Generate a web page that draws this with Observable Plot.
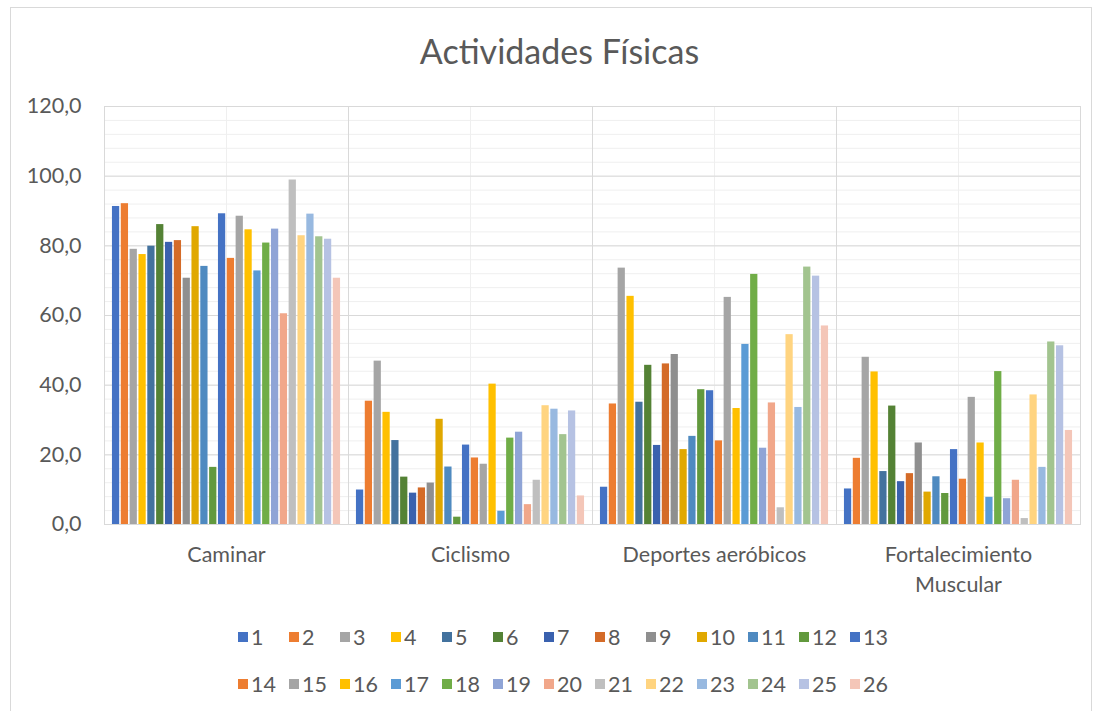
<!DOCTYPE html>
<html><head><meta charset="utf-8">
<script src="https://cdn.jsdelivr.net/npm/d3@7"></script>
<script src="https://cdn.jsdelivr.net/npm/@observablehq/plot@0.6"></script>
<style>
body{margin:0;background:#fff;font-family:Lato,"Open Sans",sans-serif;color:#595959;}
#border{position:absolute;left:10px;top:7px;width:1082px;height:730px;border:1px solid #d9d9d9;box-sizing:border-box;}
#title{position:absolute;left:10px;width:1099px;top:31px;text-align:center;font-size:34px;line-height:40px;color:#595959;}
#chart{position:absolute;left:0;top:90px;}
#legend{position:absolute;left:238px;top:626px;display:grid;grid-template-columns:repeat(13,51px);row-gap:25px;}
.item{display:flex;align-items:center;height:22px;font-size:21.5px;color:#595959;white-space:nowrap;}
.sw{width:10px;height:10px;margin-right:3px;flex:none;}
</style>
</head><body>
<div id="border"></div>
<div id="title">Actividades Físicas</div>
<div id="chart"></div>
<div id="legend"></div>
<script>
const categories = ["Caminar", "Ciclismo", "Deportes aeróbicos", "Fortalecimiento Muscular"];
const series = ["1","2","3","4","5","6","7","8","9","10","11","12","13","14","15","16","17","18","19","20","21","22","23","24","25","26"];
const caminar = [91.3, 92.1, 79.0, 77.5, 79.9, 86.1, 81.0, 81.5, 70.7, 85.5, 74.1, 16.4, 89.2, 76.4, 88.5, 84.6, 72.8, 80.8, 84.8, 60.5, 98.9, 82.9, 89.1, 82.6, 81.9, 70.7];
const ciclismo = [9.9, 35.4, 46.9, 32.2, 24.1, 13.6, 9.0, 10.5, 11.9, 30.2, 16.5, 2.1, 22.8, 19.1, 17.3, 40.3, 3.8, 24.8, 26.5, 5.7, 12.7, 34.1, 33.1, 25.8, 32.6, 8.2];
const deportes = [10.7, 34.6, 73.6, 65.5, 35.1, 45.7, 22.7, 46.1, 48.8, 21.5, 25.3, 38.7, 38.4, 24.0, 65.2, 33.3, 51.7, 71.8, 21.9, 34.9, 4.8, 54.5, 33.6, 73.9, 71.3, 57.0];
const fortalecimiento = [10.2, 19.0, 48.0, 43.8, 15.2, 34.0, 12.3, 14.6, 23.4, 9.3, 13.7, 8.9, 21.5, 13.0, 36.5, 23.4, 7.8, 43.9, 7.4, 12.7, 1.7, 37.2, 16.4, 52.4, 51.3, 27.0];
const colors = ["#4472C4","#ED7D31","#A5A5A5","#FFC000","#43729E","#548235","#3A61AE","#D46B28","#8F8F8F","#E0A800","#4F8AC0","#62993D","#4472C4","#ED7D31","#A5A5A5","#FFC000","#5B9BD5","#70AD47","#8FA4D6","#F1A78A","#BFBFBF","#FFD480","#98B9E0","#A2C48F","#B6C2E3","#F4C6B8"];
const yTicks = [0, 20, 40, 60, 80, 100, 120];
const yMinor = [0,4,8,12,16,20,24,28,32,36,40,44,48,52,56,60,64,68,72,76,80,84,88,92,96,100,104,108,112,116,120];

const valuesByCat = [caminar, ciclismo, deportes, fortalecimiento];
const data = categories.flatMap((c, i) => valuesByCat[i].map((v, j) => ({cat: c, serie: series[j], value: v})));

const chart = Plot.plot({
  width: 1099, height: 520,
  marginLeft: 104, marginRight: 19, marginTop: 16, marginBottom: 86,
  style: {fontFamily: "Lato, 'Open Sans', sans-serif", fontSize: "21.5px", color: "#595959", background: "transparent"},
  fx: {domain: categories, padding: 0, label: null, round: false},
  x: {domain: series, paddingInner: 0.18, paddingOuter: 0.9, round: false, axis: null},
  y: {domain: [0, 120], label: null},
  color: {domain: series, range: colors},
  marks: [
    Plot.ruleY(yMinor, {stroke: "#efefef"}),
    Plot.gridFx({stroke: "#efefef", strokeOpacity: 1}),
    Plot.ruleY(yTicks, {stroke: "#d9d9d9"}),
    Plot.frame({stroke: "#d9d9d9"}),
    Plot.barY(data, {fx: "cat", x: "serie", y: "value", fill: "serie"}),
    Plot.axisY({ticks: yTicks, tickSize: 0, tickPadding: 23, tickFormat: d => d.toFixed(1).replace(".", ","), label: null}),
    Plot.axisFx({anchor: "bottom", tickSize: 0, tickPadding: 16, lineHeight: 1.4, tickFormat: d => d.replace("Fortalecimiento ", "Fortalecimiento\n"), label: null})
  ]
});
document.getElementById("chart").appendChild(chart);

const legend = document.getElementById("legend");
series.forEach((s, i) => {
  const it = document.createElement("div");
  it.className = "item";
  const sw = document.createElement("span");
  sw.className = "sw";
  sw.style.background = colors[i];
  it.appendChild(sw);
  it.appendChild(document.createTextNode(s));
  legend.appendChild(it);
});
</script>
</body></html>
